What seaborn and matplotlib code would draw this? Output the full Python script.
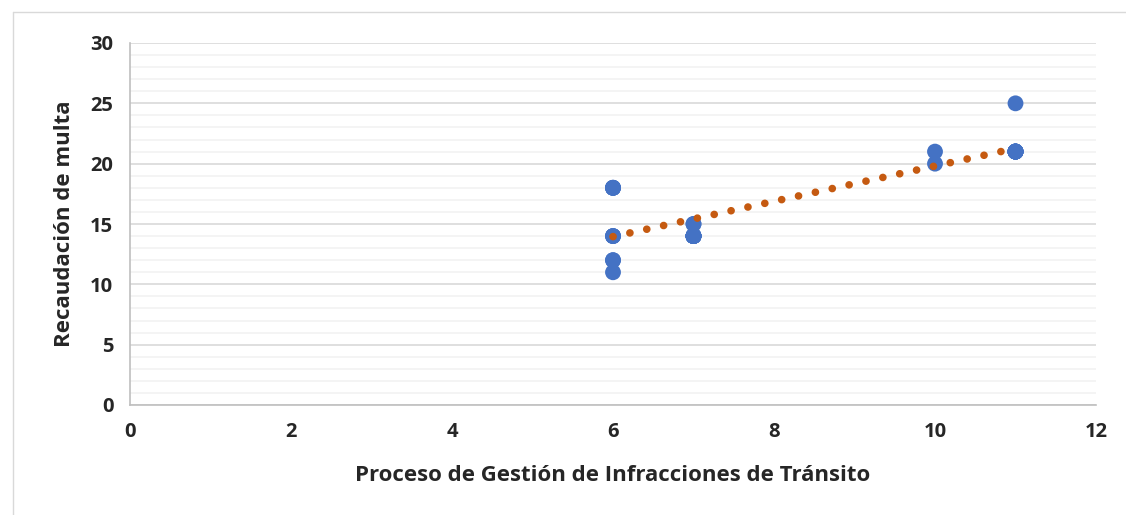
import numpy as np
import pandas as pd
import seaborn as sns
import matplotlib.pyplot as plt
from matplotlib.ticker import MultipleLocator

# survey scores, repeated entries overlap on the chart
gestion = [6, 6, 6, 6, 6, 6, 6, 6, 6, 6,
           7, 7, 7, 7, 7, 7, 7, 7, 7, 7,
           10, 10,
           11, 11, 11, 11, 11, 11, 11, 11, 11, 11]
recaudacion = [18, 18, 18, 18, 14, 14, 14, 12, 12, 11,
               15, 15, 14, 14, 14, 14, 14, 14, 14, 14,
               21, 20,
               25, 21, 21, 21, 21, 21, 21, 21, 21, 21]

df = pd.DataFrame({'x': gestion, 'y': recaudacion})

sns.set_style('white')
plt.rcParams['font.family'] = ['Open Sans', 'DejaVu Sans']

fig = plt.figure(figsize=(11.26, 5.15), dpi=100)
ax = fig.add_axes([130 / 1126, 1 - 405 / 515, 966 / 1126, 362 / 515])

ax.set_axisbelow(True)
ax.yaxis.set_major_locator(MultipleLocator(5))
ax.yaxis.set_minor_locator(MultipleLocator(1))
ax.xaxis.set_major_locator(MultipleLocator(2))
ax.grid(axis='y', which='major', color='#D9D9D9', lw=1.2)
ax.grid(axis='y', which='minor', color='#F2F2F2', lw=1.2)

sns.scatterplot(data=df, x='x', y='y', ax=ax, color='#4472C4', s=130,
                edgecolor='none', zorder=3)

# linear trend line
k, b = np.polyfit(df['x'], df['y'], 1)
xs = np.array([df['x'].min(), df['x'].max()])
ax.plot(xs, k * xs + b, color='#C55A11', lw=5.5, ls=(0, (0.01, 2.25)),
        dash_capstyle='round', zorder=4)

ax.set_xlim(0, 12)
ax.set_ylim(0, 30)
for s in ['top', 'right']:
    ax.spines[s].set_visible(False)
for s in ['left', 'bottom']:
    ax.spines[s].set_color('#BFBFBF')
    ax.spines[s].set_linewidth(1.2)
ax.tick_params(which='major', length=6, width=1.2, color='#BFBFBF',
               labelsize=14.5, pad=6)
ax.tick_params(which='minor', length=0)
for lab in ax.get_xticklabels() + ax.get_yticklabels():
    lab.set_fontweight('bold')

ax.set_xlabel('Proceso de Gestión de Infracciones de Tránsito',
              fontsize=16, fontweight='bold', labelpad=17)
ax.set_ylabel('Recaudación de multa', fontsize=16, fontweight='bold',
              labelpad=11)

# chart frame (top and left edges visible in the crop)
fig.add_artist(plt.Line2D([13 / 1126, 1], [1 - 12 / 515] * 2,
                          transform=fig.transFigure, color='#D9D9D9', lw=1))
fig.add_artist(plt.Line2D([13 / 1126] * 2, [0, 1 - 12 / 515],
                          transform=fig.transFigure, color='#D9D9D9', lw=1))

fig.savefig('out.png', dpi=100)
